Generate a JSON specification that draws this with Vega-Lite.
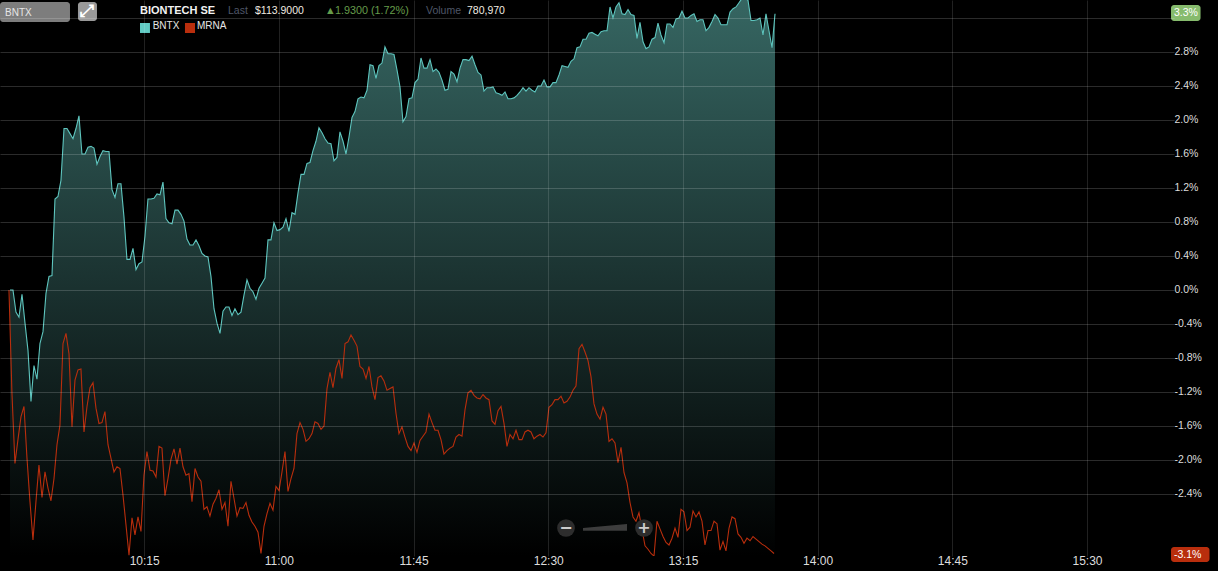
{"$schema":"https://vega.github.io/schema/vega-lite/v6.json","width":1174,"height":556,"autosize":"none","padding":{"left":0,"top":0,"right":44,"bottom":15},"background":"#000000","view":{"stroke":null,"fill":"#000000"},"data":{"format":{"parse":{"t":"date:'%H:%M:%S'"}},"values":[
{"t":"09:30:00","BNTX":0,"MRNA":0},{"t":"09:31:00","BNTX":0,"MRNA":-1.22},{"t":"09:32:00","BNTX":-0.26,"MRNA":-2.04},{"t":"09:33:00","BNTX":-0.32,"MRNA":-1.76},{"t":"09:34:01","BNTX":-0.05,"MRNA":-1.49},{"t":"09:35:01","BNTX":-0.39,"MRNA":-1.37},{"t":"09:36:01","BNTX":-0.71,"MRNA":-1.98},{"t":"09:37:01","BNTX":-1.31,"MRNA":-2.49},{"t":"09:38:01","BNTX":-0.89,"MRNA":-2.94},{"t":"09:39:01","BNTX":-1.05,"MRNA":-2.49},
{"t":"09:40:01","BNTX":-0.63,"MRNA":-2.06},{"t":"09:41:02","BNTX":-0.49,"MRNA":-2.44},{"t":"09:42:02","BNTX":-0.04,"MRNA":-2.14},{"t":"09:43:02","BNTX":0.16,"MRNA":-2.33},{"t":"09:44:02","BNTX":0.17,"MRNA":-2.48},{"t":"09:45:02","BNTX":1.07,"MRNA":-2.22},{"t":"09:46:02","BNTX":1.10,"MRNA":-1.82},{"t":"09:47:02","BNTX":1.29,"MRNA":-1.59},{"t":"09:48:03","BNTX":1.90,"MRNA":-0.63},{"t":"09:49:03","BNTX":1.90,"MRNA":-0.51},
{"t":"09:50:03","BNTX":1.84,"MRNA":-0.75},{"t":"09:51:03","BNTX":1.78,"MRNA":-1.61},{"t":"09:52:03","BNTX":1.90,"MRNA":-1.06},{"t":"09:53:03","BNTX":2.05,"MRNA":-0.94},{"t":"09:54:03","BNTX":1.60,"MRNA":-0.93},{"t":"09:55:04","BNTX":1.60,"MRNA":-1.67},{"t":"09:56:04","BNTX":1.68,"MRNA":-1.37},{"t":"09:57:04","BNTX":1.69,"MRNA":-1.15},{"t":"09:58:04","BNTX":1.67,"MRNA":-1.09},{"t":"09:59:04","BNTX":1.48,"MRNA":-1.39},
{"t":"10:00:04","BNTX":1.57,"MRNA":-1.57},{"t":"10:01:04","BNTX":1.64,"MRNA":-1.56},{"t":"10:02:04","BNTX":1.63,"MRNA":-1.43},{"t":"10:03:05","BNTX":1.63,"MRNA":-1.82},{"t":"10:04:05","BNTX":1.18,"MRNA":-1.98},{"t":"10:05:05","BNTX":1.09,"MRNA":-2.14},{"t":"10:06:05","BNTX":1.25,"MRNA":-2.08},{"t":"10:07:05","BNTX":1.25,"MRNA":-2.10},{"t":"10:08:05","BNTX":0.86,"MRNA":-2.41},{"t":"10:09:05","BNTX":0.36,"MRNA":-2.76},
{"t":"10:10:06","BNTX":0.36,"MRNA":-3.12},{"t":"10:11:06","BNTX":0.49,"MRNA":-2.68},{"t":"10:12:06","BNTX":0.24,"MRNA":-2.88},{"t":"10:13:06","BNTX":0.31,"MRNA":-2.67},{"t":"10:14:06","BNTX":0.33,"MRNA":-2.84},{"t":"10:15:06","BNTX":0.63,"MRNA":-2.18},{"t":"10:16:06","BNTX":1.07,"MRNA":-1.90},{"t":"10:17:07","BNTX":1.07,"MRNA":-2.12},{"t":"10:18:07","BNTX":1.08,"MRNA":-2.13},{"t":"10:19:07","BNTX":1.13,"MRNA":-2.20},
{"t":"10:20:07","BNTX":1.12,"MRNA":-1.84},{"t":"10:21:07","BNTX":1.27,"MRNA":-1.86},{"t":"10:22:07","BNTX":0.84,"MRNA":-2.42},{"t":"10:23:07","BNTX":0.79,"MRNA":-2.22},{"t":"10:24:08","BNTX":0.78,"MRNA":-1.99},{"t":"10:25:08","BNTX":0.94,"MRNA":-1.87},{"t":"10:26:08","BNTX":0.94,"MRNA":-2.05},{"t":"10:27:08","BNTX":0.89,"MRNA":-1.86},{"t":"10:28:08","BNTX":0.81,"MRNA":-2.08},{"t":"10:29:08","BNTX":0.60,"MRNA":-2.18},
{"t":"10:30:08","BNTX":0.53,"MRNA":-2.16},{"t":"10:31:09","BNTX":0.53,"MRNA":-2.49},{"t":"10:32:09","BNTX":0.59,"MRNA":-2.10},{"t":"10:33:09","BNTX":0.52,"MRNA":-2.20},{"t":"10:34:09","BNTX":0.43,"MRNA":-2.25},{"t":"10:35:09","BNTX":0.40,"MRNA":-2.58},{"t":"10:36:09","BNTX":0.39,"MRNA":-2.55},{"t":"10:37:09","BNTX":0.16,"MRNA":-2.66},{"t":"10:38:10","BNTX":-0.22,"MRNA":-2.52},{"t":"10:39:10","BNTX":-0.39,"MRNA":-2.45},
{"t":"10:40:10","BNTX":-0.51,"MRNA":-2.35},{"t":"10:41:10","BNTX":-0.25,"MRNA":-2.58},{"t":"10:42:10","BNTX":-0.20,"MRNA":-2.50},{"t":"10:43:10","BNTX":-0.20,"MRNA":-2.78},{"t":"10:44:10","BNTX":-0.30,"MRNA":-2.25},{"t":"10:45:10","BNTX":-0.22,"MRNA":-2.45},{"t":"10:46:11","BNTX":-0.29,"MRNA":-2.66},{"t":"10:47:11","BNTX":-0.26,"MRNA":-2.56},{"t":"10:48:11","BNTX":-0.06,"MRNA":-2.57},{"t":"10:49:11","BNTX":0.12,"MRNA":-2.50},
{"t":"10:50:11","BNTX":0.02,"MRNA":-2.65},{"t":"10:51:11","BNTX":-0.02,"MRNA":-2.73},{"t":"10:52:11","BNTX":-0.11,"MRNA":-2.78},{"t":"10:53:12","BNTX":0.02,"MRNA":-2.85},{"t":"10:54:12","BNTX":0.08,"MRNA":-3.10},{"t":"10:55:12","BNTX":0.14,"MRNA":-2.78},{"t":"10:56:12","BNTX":0.59,"MRNA":-2.63},{"t":"10:57:12","BNTX":0.59,"MRNA":-2.51},{"t":"10:58:12","BNTX":0.79,"MRNA":-2.59},{"t":"10:59:12","BNTX":0.70,"MRNA":-2.31},
{"t":"11:00:13","BNTX":0.71,"MRNA":-2.36},{"t":"11:01:13","BNTX":0.74,"MRNA":-2.14},{"t":"11:02:13","BNTX":0.84,"MRNA":-1.90},{"t":"11:03:13","BNTX":0.69,"MRNA":-2.37},{"t":"11:04:13","BNTX":0.91,"MRNA":-2.22},{"t":"11:05:13","BNTX":0.89,"MRNA":-2.10},{"t":"11:06:13","BNTX":1.14,"MRNA":-1.69},{"t":"11:07:14","BNTX":1.36,"MRNA":-1.56},{"t":"11:08:14","BNTX":1.36,"MRNA":-1.64},{"t":"11:09:14","BNTX":1.49,"MRNA":-1.78},
{"t":"11:10:14","BNTX":1.50,"MRNA":-1.75},{"t":"11:11:14","BNTX":1.64,"MRNA":-1.69},{"t":"11:12:14","BNTX":1.75,"MRNA":-1.55},{"t":"11:13:14","BNTX":1.91,"MRNA":-1.57},{"t":"11:14:15","BNTX":1.85,"MRNA":-1.64},{"t":"11:15:15","BNTX":1.78,"MRNA":-1.60},{"t":"11:16:15","BNTX":1.73,"MRNA":-1.16},{"t":"11:17:15","BNTX":1.72,"MRNA":-0.97},{"t":"11:18:15","BNTX":1.52,"MRNA":-1.15},{"t":"11:19:15","BNTX":1.56,"MRNA":-0.92},
{"t":"11:20:15","BNTX":1.86,"MRNA":-0.82},{"t":"11:21:16","BNTX":1.75,"MRNA":-1.04},{"t":"11:22:16","BNTX":1.60,"MRNA":-0.63},{"t":"11:23:16","BNTX":1.80,"MRNA":-0.61},{"t":"11:24:16","BNTX":2.03,"MRNA":-0.53},{"t":"11:25:16","BNTX":2.10,"MRNA":-0.59},{"t":"11:26:16","BNTX":2.25,"MRNA":-0.66},{"t":"11:27:16","BNTX":2.27,"MRNA":-0.90},{"t":"11:28:17","BNTX":2.26,"MRNA":-0.93},{"t":"11:29:17","BNTX":2.35,"MRNA":-1.04},
{"t":"11:30:17","BNTX":2.65,"MRNA":-0.90},{"t":"11:31:17","BNTX":2.64,"MRNA":-1.14},{"t":"11:32:17","BNTX":2.49,"MRNA":-1.29},{"t":"11:33:17","BNTX":2.64,"MRNA":-1.03},{"t":"11:34:17","BNTX":2.67,"MRNA":-1.01},{"t":"11:35:17","BNTX":2.86,"MRNA":-1.07},{"t":"11:36:18","BNTX":2.78,"MRNA":-1.18},{"t":"11:37:18","BNTX":2.78,"MRNA":-1.16},{"t":"11:38:18","BNTX":2.77,"MRNA":-1.14},{"t":"11:39:18","BNTX":2.59,"MRNA":-1.45},
{"t":"11:40:18","BNTX":2.39,"MRNA":-1.69},{"t":"11:41:18","BNTX":1.98,"MRNA":-1.61},{"t":"11:42:18","BNTX":2.04,"MRNA":-1.73},{"t":"11:43:19","BNTX":2.25,"MRNA":-1.84},{"t":"11:44:19","BNTX":2.26,"MRNA":-1.89},{"t":"11:45:19","BNTX":2.44,"MRNA":-1.80},{"t":"11:46:19","BNTX":2.48,"MRNA":-1.91},{"t":"11:47:19","BNTX":2.73,"MRNA":-1.77},{"t":"11:48:19","BNTX":2.61,"MRNA":-1.72},{"t":"11:49:19","BNTX":2.61,"MRNA":-1.67},
{"t":"11:50:20","BNTX":2.71,"MRNA":-1.46},{"t":"11:51:20","BNTX":2.57,"MRNA":-1.56},{"t":"11:52:20","BNTX":2.60,"MRNA":-1.65},{"t":"11:53:20","BNTX":2.56,"MRNA":-1.65},{"t":"11:54:20","BNTX":2.47,"MRNA":-1.76},{"t":"11:55:20","BNTX":2.35,"MRNA":-1.93},{"t":"11:56:20","BNTX":2.36,"MRNA":-1.89},{"t":"11:57:21","BNTX":2.57,"MRNA":-1.86},{"t":"11:58:21","BNTX":2.54,"MRNA":-1.84},{"t":"11:59:21","BNTX":2.45,"MRNA":-1.73},
{"t":"12:00:21","BNTX":2.61,"MRNA":-1.70},{"t":"12:01:21","BNTX":2.71,"MRNA":-1.72},{"t":"12:02:21","BNTX":2.71,"MRNA":-1.41},{"t":"12:03:21","BNTX":2.70,"MRNA":-1.21},{"t":"12:04:22","BNTX":2.75,"MRNA":-1.18},{"t":"12:05:22","BNTX":2.65,"MRNA":-1.24},{"t":"12:06:22","BNTX":2.56,"MRNA":-1.27},{"t":"12:07:22","BNTX":2.53,"MRNA":-1.28},{"t":"12:08:22","BNTX":2.34,"MRNA":-1.23},{"t":"12:09:22","BNTX":2.38,"MRNA":-1.27},
{"t":"12:10:22","BNTX":2.38,"MRNA":-1.29},{"t":"12:11:23","BNTX":2.39,"MRNA":-1.54},{"t":"12:12:23","BNTX":2.32,"MRNA":-1.58},{"t":"12:13:23","BNTX":2.31,"MRNA":-1.42},{"t":"12:14:23","BNTX":2.29,"MRNA":-1.37},{"t":"12:15:23","BNTX":2.33,"MRNA":-1.57},{"t":"12:16:23","BNTX":2.25,"MRNA":-1.84},{"t":"12:17:23","BNTX":2.25,"MRNA":-1.70},{"t":"12:18:24","BNTX":2.26,"MRNA":-1.75},{"t":"12:19:24","BNTX":2.29,"MRNA":-1.65},
{"t":"12:20:24","BNTX":2.33,"MRNA":-1.76},{"t":"12:21:24","BNTX":2.38,"MRNA":-1.76},{"t":"12:22:24","BNTX":2.34,"MRNA":-1.67},{"t":"12:23:24","BNTX":2.38,"MRNA":-1.65},{"t":"12:24:24","BNTX":2.35,"MRNA":-1.67},{"t":"12:25:24","BNTX":2.33,"MRNA":-1.75},{"t":"12:26:25","BNTX":2.40,"MRNA":-1.72},{"t":"12:27:25","BNTX":2.40,"MRNA":-1.70},{"t":"12:28:25","BNTX":2.47,"MRNA":-1.73},{"t":"12:29:25","BNTX":2.39,"MRNA":-1.68},
{"t":"12:30:25","BNTX":2.39,"MRNA":-1.38},{"t":"12:31:25","BNTX":2.44,"MRNA":-1.35},{"t":"12:32:25","BNTX":2.44,"MRNA":-1.29},{"t":"12:33:26","BNTX":2.53,"MRNA":-1.29},{"t":"12:34:26","BNTX":2.64,"MRNA":-1.25},{"t":"12:35:26","BNTX":2.63,"MRNA":-1.33},{"t":"12:36:26","BNTX":2.62,"MRNA":-1.31},{"t":"12:37:26","BNTX":2.69,"MRNA":-1.26},{"t":"12:38:26","BNTX":2.72,"MRNA":-1.18},{"t":"12:39:26","BNTX":2.85,"MRNA":-1.13},
{"t":"12:40:27","BNTX":2.86,"MRNA":-0.69},{"t":"12:41:27","BNTX":2.95,"MRNA":-0.64},{"t":"12:42:27","BNTX":2.95,"MRNA":-0.73},{"t":"12:43:27","BNTX":3.02,"MRNA":-0.83},{"t":"12:44:27","BNTX":3.03,"MRNA":-1.02},{"t":"12:45:27","BNTX":3.01,"MRNA":-1.34},{"t":"12:46:27","BNTX":2.99,"MRNA":-1.46},{"t":"12:47:28","BNTX":3.04,"MRNA":-1.52},{"t":"12:48:28","BNTX":3.05,"MRNA":-1.38},{"t":"12:49:28","BNTX":3.05,"MRNA":-1.46},
{"t":"12:50:28","BNTX":3.33,"MRNA":-1.78},{"t":"12:51:28","BNTX":3.20,"MRNA":-1.75},{"t":"12:52:28","BNTX":3.33,"MRNA":-1.80},{"t":"12:53:28","BNTX":3.38,"MRNA":-2.03},{"t":"12:54:29","BNTX":3.25,"MRNA":-1.85},{"t":"12:55:29","BNTX":3.24,"MRNA":-2.15},{"t":"12:56:29","BNTX":3.30,"MRNA":-2.27},{"t":"12:57:29","BNTX":3.24,"MRNA":-2.50},{"t":"12:58:29","BNTX":3.23,"MRNA":-2.67},{"t":"12:59:29","BNTX":2.96,"MRNA":-2.72},
{"t":"13:00:29","BNTX":3.15,"MRNA":-2.62},{"t":"13:01:30","BNTX":2.92,"MRNA":-2.82},{"t":"13:02:30","BNTX":2.84,"MRNA":-3.01},{"t":"13:03:30","BNTX":2.86,"MRNA":-3.05},{"t":"13:04:30","BNTX":2.95,"MRNA":-3.10},{"t":"13:05:30","BNTX":2.97,"MRNA":-3.13},{"t":"13:06:30","BNTX":3.14,"MRNA":-2.72},{"t":"13:07:30","BNTX":3.00,"MRNA":-2.81},{"t":"13:08:31","BNTX":2.91,"MRNA":-2.90},{"t":"13:09:31","BNTX":3.13,"MRNA":-2.97},
{"t":"13:10:31","BNTX":3.13,"MRNA":-3.00},{"t":"13:11:31","BNTX":3.09,"MRNA":-2.92},{"t":"13:12:31","BNTX":3.19,"MRNA":-2.80},{"t":"13:13:31","BNTX":3.20,"MRNA":-2.91},{"t":"13:14:31","BNTX":3.28,"MRNA":-2.58},{"t":"13:15:31","BNTX":3.20,"MRNA":-2.61},{"t":"13:16:32","BNTX":3.20,"MRNA":-2.83},{"t":"13:17:32","BNTX":3.23,"MRNA":-2.79},{"t":"13:18:32","BNTX":3.25,"MRNA":-2.60},{"t":"13:19:32","BNTX":3.16,"MRNA":-2.67},
{"t":"13:20:32","BNTX":3.18,"MRNA":-2.61},{"t":"13:21:32","BNTX":3.18,"MRNA":-2.72},{"t":"13:22:32","BNTX":3.05,"MRNA":-3.00},{"t":"13:23:33","BNTX":3.09,"MRNA":-2.83},{"t":"13:24:33","BNTX":3.16,"MRNA":-2.83},{"t":"13:25:33","BNTX":3.24,"MRNA":-2.72},{"t":"13:26:33","BNTX":3.20,"MRNA":-2.75},{"t":"13:27:33","BNTX":3.12,"MRNA":-3.06},{"t":"13:28:33","BNTX":3.12,"MRNA":-2.96},{"t":"13:29:33","BNTX":3.12,"MRNA":-3.07},
{"t":"13:30:34","BNTX":3.27,"MRNA":-2.80},{"t":"13:31:34","BNTX":3.31,"MRNA":-2.67},{"t":"13:32:34","BNTX":3.33,"MRNA":-2.69},{"t":"13:33:34","BNTX":3.38,"MRNA":-2.87},{"t":"13:34:34","BNTX":3.43,"MRNA":-2.91},{"t":"13:35:34","BNTX":3.43,"MRNA":-2.98},{"t":"13:36:34","BNTX":3.41,"MRNA":-2.92},{"t":"13:37:35","BNTX":3.17,"MRNA":-2.95},{"t":"13:38:35","BNTX":3.17,"MRNA":-2.90},{"t":"13:39:35","BNTX":3.18,"MRNA":-2.93},
{"t":"13:40:35","BNTX":3.20,"MRNA":-2.96},{"t":"13:41:35","BNTX":3.00,"MRNA":-2.99},{"t":"13:42:35","BNTX":3.25,"MRNA":-3.01},{"t":"13:43:35","BNTX":3.05,"MRNA":-3.04},{"t":"13:44:36","BNTX":2.85,"MRNA":-3.07},{"t":"13:45:36","BNTX":3.25,"MRNA":-3.10}
]},
"encoding":{"x":{"field":"t","type":"temporal","title":null,"scale":{"domain":[{"year":1900,"month":1,"date":1,"hours":9,"minutes":26,"seconds":50},{"year":1900,"month":1,"date":1,"hours":15,"minutes":59,"seconds":4}]},"axis":{"zindex":1,"values":[{"year":1900,"month":1,"date":1,"hours":10,"minutes":15},{"year":1900,"month":1,"date":1,"hours":11,"minutes":0},{"year":1900,"month":1,"date":1,"hours":11,"minutes":45},{"year":1900,"month":1,"date":1,"hours":12,"minutes":30},{"year":1900,"month":1,"date":1,"hours":13,"minutes":15},{"year":1900,"month":1,"date":1,"hours":14,"minutes":0},{"year":1900,"month":1,"date":1,"hours":14,"minutes":45},{"year":1900,"month":1,"date":1,"hours":15,"minutes":30}],"format":"%H:%M","grid":true,"gridColor":"#ffffff","gridOpacity":0.13,"gridWidth":1,"domain":false,"ticks":false,"labelColor":"#dddddd","labelFont":"Liberation Sans","labelFontSize":12,"labelPadding":-1,"labelBaseline":"top","labelFlush":false,"labelOverlap":false}},
"y":{"field":"BNTX","type":"quantitative","title":null,"scale":{"domain":[-3.1294,3.4118],"nice":false,"zero":false},"axis":{"orient":"right","zindex":1,"values":[-2.4,-2,-1.6,-1.2,-0.8,-0.4,0,0.4,0.8,1.2,1.6,2,2.4,2.8,3.2],"labelExpr":"datum.value>3?'':replace(format(datum.value,'.1f'),'\u2212','-')+'%'","grid":true,"gridColor":"#ffffff","gridOpacity":0.17,"gridWidth":1,"domain":false,"ticks":false,"labelColor":"#dddddd","labelFont":"Liberation Sans","labelFontSize":10.5,"labelPadding":0,"labelOffset":-1,"labelAlign":"left","labelBaseline":"middle","labelOverlap":false,"labelFlush":false}}},
"layer":[
{"mark":{"type":"area","clip":true,"xOffset":0.5,"interpolate":"linear","color":{"gradient":"linear","x1":0,"y1":0,"x2":0,"y2":1,"stops":[{"offset":0,"color":"#366662"},{"offset":1,"color":"#000000"}]}},"encoding":{"y2":{"datum":-3.1294}}},
{"mark":{"type":"line","clip":true,"xOffset":0.5,"color":"#5ec5be","strokeWidth":1.1,"interpolate":"linear"}},
{"mark":{"type":"line","clip":true,"xOffset":-0.5,"color":"#b92e0d","strokeWidth":1.1,"interpolate":"linear"},"encoding":{"y":{"field":"MRNA","type":"quantitative","title":null}}},
{"data":{"values":[{"t":"09:26:50","t2":"09:50:13","p":3.388,"p2":3.153}],"format":{"parse":{"t":"date:'%H:%M:%S'","t2":"date:'%H:%M:%S'"}}},"mark":{"type":"rect","color":"#7d7d7d","cornerRadius":3},"encoding":{"x2":{"field":"t2"},"y":{"field":"p","type":"quantitative","title":null},"y2":{"field":"p2"}}},
{"data":{"values":[{"t":"09:52:53","t2":"09:59:14","p":3.388,"p2":3.165}],"format":{"parse":{"t":"date:'%H:%M:%S'","t2":"date:'%H:%M:%S'"}}},"mark":{"type":"rect","color":"#999999","cornerRadius":3},"encoding":{"x2":{"field":"t2"},"y":{"field":"p","type":"quantitative","title":null},"y2":{"field":"p2"}}},
{"data":{"values":[{"t":"09:56:04","p":3.28,"label":"⤢"}],"format":{"parse":{"t":"date:'%H:%M:%S'"}}},"mark":{"type":"text","font":"DejaVu Sans","fontSize":17,"fontWeight":"bold","color":"#ffffff","align":"center","baseline":"middle"},"encoding":{"y":{"field":"p","type":"quantitative","title":null},"text":{"field":"label"}}},
{"data":{"values":[{"t":"09:28:30","p":3.26,"label":"BNTX"},{"t":"10:17:50","p":3.106,"label":"BNTX"},{"t":"10:32:39","p":3.106,"label":"MRNA"}],"format":{"parse":{"t":"date:'%H:%M:%S'"}}},"mark":{"type":"text","font":"Liberation Sans","fontSize":10,"color":"#e6e6e6","align":"left","baseline":"middle"},"encoding":{"y":{"field":"p","type":"quantitative","title":null},"text":{"field":"label"}}},
{"data":{"values":[{"t":"10:13:36","p":3.285,"label":"BIONTECH SE"}],"format":{"parse":{"t":"date:'%H:%M:%S'"}}},"mark":{"type":"text","font":"Liberation Sans","fontSize":11,"fontWeight":"bold","color":"#f2f2f2","align":"left","baseline":"middle"},"encoding":{"y":{"field":"p","type":"quantitative","title":null},"text":{"field":"label"}}},
{"data":{"values":[{"t":"10:43:00","p":3.285,"label":"Last"},{"t":"11:49:10","p":3.285,"label":"Volume"}],"format":{"parse":{"t":"date:'%H:%M:%S'"}}},"mark":{"type":"text","font":"Liberation Sans","fontSize":10.5,"color":"#4f5768","align":"left","baseline":"middle"},"encoding":{"y":{"field":"p","type":"quantitative","title":null},"text":{"field":"label"}}},
{"data":{"values":[{"t":"10:52:02","p":3.285,"label":"$113.9000"},{"t":"12:02:51","p":3.285,"label":"780,970"}],"format":{"parse":{"t":"date:'%H:%M:%S'"}}},"mark":{"type":"text","font":"Liberation Sans","fontSize":10.5,"color":"#f0ece0","align":"left","baseline":"middle"},"encoding":{"y":{"field":"p","type":"quantitative","title":null},"text":{"field":"label"}}},
{"data":{"values":[{"t":"11:15:25","p":3.285,"label":"▲"},{"t":"11:18:45","p":3.285,"label":"1.9300 (1.72%)"}],"format":{"parse":{"t":"date:'%H:%M:%S'"}}},"mark":{"type":"text","font":"Liberation Sans","fontSize":10.8,"color":"#669c4b","align":"left","baseline":"middle"},"encoding":{"y":{"field":"p","type":"quantitative","title":null},"text":{"field":"label"}}},
{"data":{"values":[{"t":"10:13:36","t2":"10:16:56","p":3.141,"p2":3.024}],"format":{"parse":{"t":"date:'%H:%M:%S'","t2":"date:'%H:%M:%S'"}}},"mark":{"type":"rect","color":"#62cbc4"},"encoding":{"x2":{"field":"t2"},"y":{"field":"p","type":"quantitative","title":null},"y2":{"field":"p2"}}},
{"data":{"values":[{"t":"10:28:38","t2":"10:31:59","p":3.141,"p2":3.024}],"format":{"parse":{"t":"date:'%H:%M:%S'","t2":"date:'%H:%M:%S'"}}},"mark":{"type":"rect","color":"#b92e0d"},"encoding":{"x2":{"field":"t2"},"y":{"field":"p","type":"quantitative","title":null},"y2":{"field":"p2"}}},
{"data":{"values":[{"t":"12:35:56","p":-2.8},{"t":"13:02:00","p":-2.8}],"format":{"parse":{"t":"date:'%H:%M:%S'"}}},"mark":{"type":"point","filled":true,"size":314,"color":"#2d2d2d","opacity":1},"encoding":{"y":{"field":"p","type":"quantitative","title":null}}},
{"data":{"values":[{"t":"12:41:37","p":-2.8,"p2":-2.832},{"t":"12:56:19","p":-2.753,"p2":-2.832}],"format":{"parse":{"t":"date:'%H:%M:%S'"}}},"mark":{"type":"area","color":"#3d3d3d","interpolate":"linear"},"encoding":{"y":{"field":"p","type":"quantitative","title":null},"y2":{"field":"p2"}}},
{"data":{"values":[{"t":"12:35:56","p":-2.8,"label":"−"},{"t":"13:02:00","p":-2.8,"label":"+"}],"format":{"parse":{"t":"date:'%H:%M:%S'"}}},"mark":{"type":"text","font":"DejaVu Sans","fontSize":16,"fontWeight":"bold","color":"#cccccc","align":"center","baseline":"middle"},"encoding":{"y":{"field":"p","type":"quantitative","title":null},"text":{"field":"label"}}},
{"data":{"values":[{"t":"15:58:04","t2":"16:07:56","p":3.353,"p2":3.165}],"format":{"parse":{"t":"date:'%H:%M:%S'","t2":"date:'%H:%M:%S'"}}},"mark":{"type":"rect","color":"#86bb6d","cornerRadius":3},"encoding":{"x2":{"field":"t2"},"y":{"field":"p","type":"quantitative","title":null},"y2":{"field":"p2"}}},
{"data":{"values":[{"t":"15:58:04","t2":"16:10:56","p":-3.024,"p2":-3.2}],"format":{"parse":{"t":"date:'%H:%M:%S'","t2":"date:'%H:%M:%S'"}}},"mark":{"type":"rect","color":"#b92e0d","cornerRadius":3},"encoding":{"x2":{"field":"t2"},"y":{"field":"p","type":"quantitative","title":null},"y2":{"field":"p2"}}},
{"data":{"values":[{"t":"15:59:04","p":3.259,"label":"3.3%"},{"t":"15:59:04","p":-3.112,"label":"-3.1%"}],"format":{"parse":{"t":"date:'%H:%M:%S'"}}},"mark":{"type":"text","font":"Liberation Sans","fontSize":10.5,"color":"#ffffff","align":"left","baseline":"middle"},"encoding":{"y":{"field":"p","type":"quantitative","title":null},"text":{"field":"label"}}}
]}
